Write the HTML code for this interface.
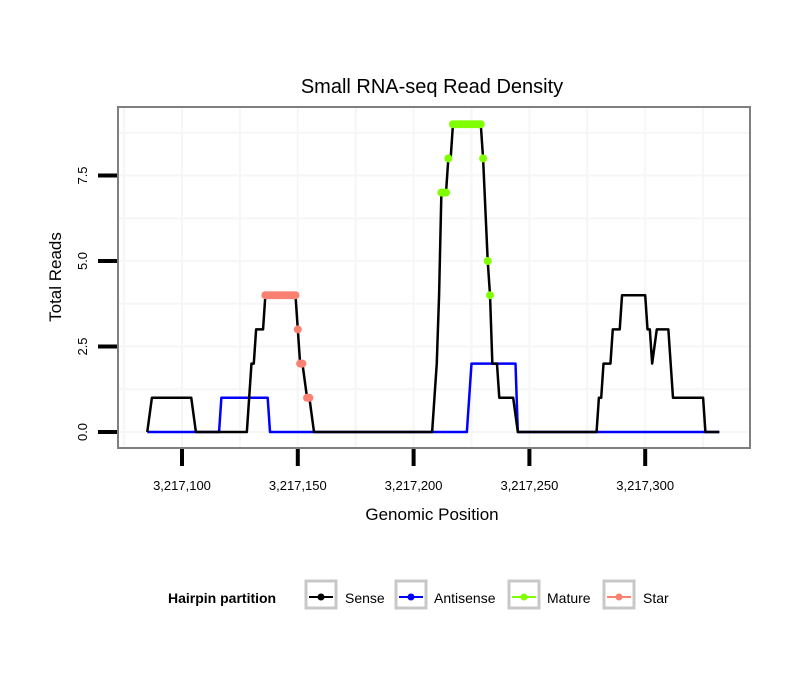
<!DOCTYPE html>
<html><head><meta charset="utf-8"><style>
body{margin:0;background:#fff;}
svg text{font-family:"Liberation Sans",Arial,sans-serif;}
</style></head><body>
<svg id="chart" width="810" height="690" xmlns="http://www.w3.org/2000/svg">
<text x="432" y="93" font-size="20" text-anchor="middle">Small RNA-seq Read Density</text>
<rect x="118" y="107" width="632" height="341" fill="#fff"/>
<g id="grid"></g>
<g id="series"></g>
<rect x="118" y="107" width="632" height="341" fill="none" stroke="#7f7f7f" stroke-width="2"/>
<g id="axes"></g>
<text x="432" y="520" font-size="17" text-anchor="middle">Genomic Position</text>
<text transform="translate(61,277) rotate(-90)" font-size="17" text-anchor="middle">Total Reads</text>
<g>
<text x="168" y="603" font-size="14" font-weight="bold">Hairpin partition</text>
<g><rect x="306" y="581" width="30" height="27" fill="#fff" stroke="#c8c8c8" stroke-width="3"/><line x1="309" y1="597" x2="333" y2="597" stroke="#000" stroke-width="2"/><circle cx="321" cy="597" r="3.5" fill="#000"/><text x="345" y="603" font-size="14">Sense</text></g>
<g><rect x="396" y="581" width="30" height="27" fill="#fff" stroke="#c8c8c8" stroke-width="3"/><line x1="399" y1="597" x2="423" y2="597" stroke="#00f" stroke-width="2"/><circle cx="411" cy="597" r="3.5" fill="#00f"/><text x="434" y="603" font-size="14">Antisense</text></g>
<g><rect x="509" y="581" width="30" height="27" fill="#fff" stroke="#c8c8c8" stroke-width="3"/><line x1="512" y1="597" x2="536" y2="597" stroke="#7fff00" stroke-width="2"/><circle cx="524" cy="597" r="3.5" fill="#7fff00"/><text x="547" y="603" font-size="14">Mature</text></g>
<g><rect x="604" y="581" width="30" height="27" fill="#fff" stroke="#c8c8c8" stroke-width="3"/><line x1="607" y1="597" x2="631" y2="597" stroke="#fa8072" stroke-width="2"/><circle cx="619" cy="597" r="3.5" fill="#fa8072"/><text x="643" y="603" font-size="14">Star</text></g>
</g>
</svg>
<script>
const xTicks = [3217100, 3217150, 3217200, 3217250, 3217300];
const xTickLabels = ["3,217,100", "3,217,150", "3,217,200", "3,217,250", "3,217,300"];
const yTicks = [0, 2.5, 5, 7.5];
const yTickLabels = ["0.0", "2.5", "5.0", "7.5"];
const senseX = [3217085,3217087,3217104,3217106,3217128,3217130,3217131,3217132,3217135,3217136,3217149,3217150,3217151,3217152,3217154,3217155,3217157,3217208,3217210,3217211,3217212,3217214,3217215,3217216,3217217,3217229,3217230,3217232,3217233,3217234,3217236,3217237,3217243,3217245,3217279,3217280,3217281,3217282,3217285,3217286,3217289,3217290,3217300,3217301,3217302,3217303,3217305,3217310,3217312,3217325,3217326,3217332];
const senseY = [0,1,1,0,0,2,2,3,3,4,4,3,2,2,1,1,0,0,2,4,7,7,8,8,9,9,8,5,4,2,2,1,1,0,0,1,1,2,2,3,3,4,4,3,3,2,3,3,1,1,0,0];
const antiX = [3217085,3217116,3217117,3217137,3217138,3217223,3217225,3217244,3217245,3217332];
const antiY = [0,0,1,1,0,0,2,2,0,0];
const matureX = [3217212,3217213,3217214,3217215,3217217,3217218,3217219,3217220,3217221,3217222,3217223,3217224,3217225,3217226,3217227,3217228,3217229,3217230,3217232,3217233];
const matureY = [7,7,7,8,9,9,9,9,9,9,9,9,9,9,9,9,9,8,5,4];
const starX = [3217136,3217137,3217138,3217139,3217140,3217141,3217142,3217143,3217144,3217145,3217146,3217147,3217148,3217149,3217150,3217151,3217152,3217154,3217155];
const starY = [4,4,4,4,4,4,4,4,4,4,4,4,4,4,3,2,2,1,1];

const NS='http://www.w3.org/2000/svg';
const xs = v => 182 + (v - 3217100) * 2.316;
const ys = v => 432 - v * 34.2;
function mk(tag, attrs, parent){const e=document.createElementNS(NS,tag);for(const k in attrs)e.setAttribute(k,attrs[k]);parent.appendChild(e);return e;}
const grid=document.getElementById('grid'), ser=document.getElementById('series'), ax=document.getElementById('axes');
[3217075,3217100,3217125,3217150,3217175,3217200,3217225,3217250,3217275,3217300,3217325].forEach(v=>{
  const l=mk('line',{x1:xs(v),x2:xs(v),y1:108,y2:447,stroke:'#f6f6f6','stroke-width':2},grid);
  
  
});
[0,1.25,2.5,3.75,5,6.25,7.5,8.75].forEach(v=>{
  const l=mk('line',{x1:119,x2:749,y1:ys(v),y2:ys(v),stroke:'#f6f6f6','stroke-width':2},grid);
  
  
});
function line(X,Y,color,name){
  const p=mk('polyline',{points:X.map((x,i)=>xs(x)+','+ys(Y[i])).join(' '),fill:'none',stroke:color,'stroke-width':2.5,'stroke-linejoin':'round'},ser);
  
  
}
function pts(X,Y,color,name){
  X.forEach((x,i)=>{
    const c=mk('ellipse',{cx:xs(x),cy:ys(Y[i]),rx:4,ry:4,fill:color},ser);
    
    
  });
}
line(antiX,antiY,'#0000ff','antisense-line');
line(senseX,senseY,'#000','sense-line');
pts(matureX,matureY,'#7fff00','mature-point');
pts(starX,starY,'#fa8072','star-point');
xTicks.forEach((v,i)=>{
  const t=mk('line',{x1:xs(v),x2:xs(v),y1:449,y2:466,stroke:'#000','stroke-width':4},ax);
  
  
  const tx=mk('text',{x:xs(v),y:490,'font-size':13,'text-anchor':'middle'},ax);
  tx.textContent=xTickLabels[i];
  
  
});
yTicks.forEach((v,i)=>{
  const t=mk('line',{x1:98,x2:117,y1:ys(v),y2:ys(v),stroke:'#000','stroke-width':4},ax);
  
  
  const tx=mk('text',{transform:'translate(87,'+ys(v)+') rotate(-90)','font-size':13,'text-anchor':'middle'},ax);
  tx.textContent=yTickLabels[i];
  
  
});
</script>
</body></html>
